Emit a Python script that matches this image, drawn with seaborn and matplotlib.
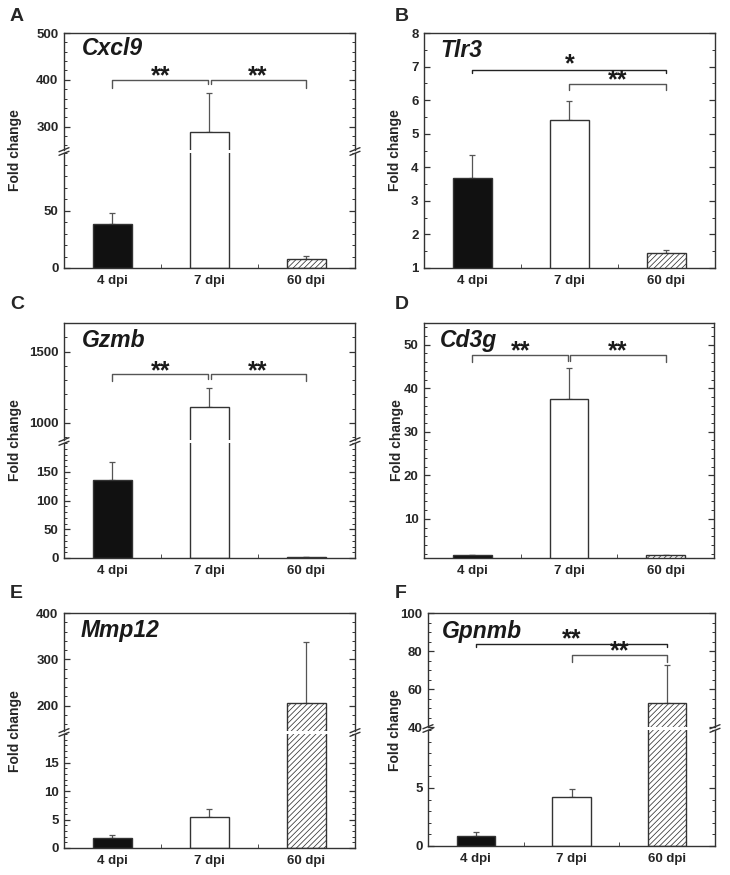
import numpy as np
import pandas as pd
import matplotlib
matplotlib.use('Agg')
import matplotlib.pyplot as plt
import seaborn as sns
from matplotlib.ticker import FixedLocator, MultipleLocator
from matplotlib.lines import Line2D

# ---------------- data ----------------
categories = ['4 dpi', '7 dpi', '60 dpi']

cxcl9_mean = [38, 289, 8]
cxcl9_err = [9.5, 83, 2.2]
tlr3_mean = [3.68, 5.42, 1.45]
tlr3_err = [0.68, 0.55, 0.10]
gzmb_mean = [136, 1114, 1.5]
gzmb_err = [31, 128, 0.5]
cd3g_mean = [1.6, 37.6, 1.6]
cd3g_err = [0.1, 7.1, 0.1]
mmp12_mean = [1.7, 5.5, 205]
mmp12_err = [0.6, 1.3, 132]
gpnmb_mean = [0.85, 4.2, 52.7]
gpnmb_err = [0.35, 0.72, 20]

genes = ['Cxcl9', 'Tlr3', 'Gzmb', 'Cd3g', 'Mmp12', 'Gpnmb']
panel_letters = ['A', 'B', 'C', 'D', 'E', 'F']

# ---------------- style ----------------
sns.set_style('ticks')
plt.rcParams['font.family'] = ['Liberation Sans', 'DejaVu Sans']
plt.rcParams['font.weight'] = 'bold'
plt.rcParams['hatch.linewidth'] = 0.55

EDGE = '#333333'
ERRC = '#555555'
bar_colors = {'4 dpi': '#111111', '7 dpi': 'white', '60 dpi': 'white'}

W, H = 730, 875
fig = plt.figure(figsize=(W / 100, H / 100), dpi=100)


def rect(l, t, r, b):
    return [l / W, 1 - b / H, (r - l) / W, (b - t) / H]


def fx(x):
    return x / W


def fy(y):
    return 1 - y / H


def draw_bars(ax, means, errs):
    df = pd.DataFrame({'dpi': categories, 'fold': means})
    sns.barplot(data=df, x='dpi', y='fold', hue='dpi', palette=bar_colors,
                legend=False, width=0.4, edgecolor=EDGE, linewidth=1.0,
                errorbar=None, ax=ax, zorder=2)
    for p in ax.patches:
        cx = p.get_x() + p.get_width() / 2
        if abs(cx - 2) < 0.1:
            p.set_hatch('//////')
    ax.errorbar(range(3), means, yerr=[np.zeros(3), errs], fmt='none',
                ecolor=ERRC, elinewidth=0.9, capsize=2, capthick=0.9, zorder=1)


def style(ax, ylim, yticks, minor, top=True, bottom=True):
    ax.set_xlim(-0.5, 2.5)
    ax.set_ylim(*ylim)
    ax.set_yticks(yticks)
    ax.set_yticklabels([str(t) for t in yticks])
    ax.yaxis.set_minor_locator(MultipleLocator(minor))
    ax.set_xlabel('')
    ax.set_ylabel('')
    for s in ax.spines.values():
        s.set_color(EDGE)
        s.set_linewidth(1.0)
    ax.spines['top'].set_visible(top)
    ax.spines['bottom'].set_visible(bottom)
    ax.tick_params(axis='y', which='both', direction='in', left=True,
                   right=True, color=EDGE, labelsize=9.5, pad=4)
    ax.tick_params(axis='y', which='major', length=4, width=0.9)
    ax.tick_params(axis='y', which='minor', length=2, width=0.7)
    if bottom:
        ax.set_xticks([0, 1, 2])
        ax.set_xticklabels(categories)
        ax.xaxis.set_minor_locator(FixedLocator([0.5, 1.5]))
        ax.tick_params(axis='x', which='major', length=0, labelsize=9.5, pad=5)
        ax.tick_params(axis='x', which='minor', direction='in', length=3,
                       bottom=True, top=False, color=EDGE)
    else:
        ax.tick_params(axis='x', which='both', bottom=False, top=False,
                       labelbottom=False)
        ax.set_xticks([])


def draw_break(xpix, ypix):
    for d in (-1.8, 1.8):
        fig.add_artist(Line2D([fx(xpix - 5), fx(xpix + 5)],
                              [fy(ypix + d + 2), fy(ypix + d - 2)],
                              color=EDGE, lw=1.0))


def bracket(ax, x1, x2, y, d1, d2, color=ERRC):
    ax.plot([x1, x1, x2, x2], [y - d1, y, y, y - d2], color=color, lw=1.0,
            clip_on=False, zorder=3)


def stars(ax, x, y, label, off=-2.5):
    ax.annotate(label, (x, y), xytext=(0, off), textcoords='offset points',
                ha='center', va='baseline', fontsize=18, color='#1a1a1a')


def panel_text(letter, gene, lx, ly, gx, gy, ylx, yly):
    fig.text(fx(lx), fy(ly), letter, fontsize=14, fontweight='bold',
             ha='left', va='top')
    fig.text(fx(gx), fy(gy), gene, fontsize=16.5, fontweight='bold',
             fontstyle='italic', ha='left', va='top', color='#1a1a1a')
    fig.text(fx(ylx), fy(yly), 'Fold change', fontsize=10, fontweight='bold',
             rotation=90, ha='center', va='center')


# ---------------- Panel A: Cxcl9 (broken) ----------------
aU = fig.add_axes(rect(64, 33, 355, 150))
aL = fig.add_axes(rect(64, 153, 355, 268))
for ax in (aU, aL):
    draw_bars(ax, cxcl9_mean, cxcl9_err)
style(aU, (250, 500), [300, 400, 500], 20, top=True, bottom=False)
style(aL, (0, 100), [0, 50], 10, top=False, bottom=True)
draw_break(64, 151.5)
draw_break(355, 151.5)
bracket(aU, 0, 0.985, 400, 18, 10)
bracket(aU, 1.015, 2, 400, 10, 18)
stars(aU, 0.5, 400, '**')
stars(aU, 1.5, 400, '**')
panel_text('A', genes[0], 10, 8, 82, 37, 15, 150)

# ---------------- Panel B: Tlr3 ----------------
b = fig.add_axes(rect(424, 33, 715, 268))
draw_bars(b, tlr3_mean, tlr3_err)
style(b, (1, 8), [1, 2, 3, 4, 5, 6, 7, 8], 0.5)
bracket(b, 0, 2, 6.9, 0.1, 0.1, color='#222222')
bracket(b, 1, 2, 6.48, 0.18, 0.18)
stars(b, 1, 6.9, '*', off=-1)
stars(b, 1.5, 6.48, '**', off=-2.5)
panel_text('B', genes[1], 395, 8, 440, 39, 395, 150)

# ---------------- Panel C: Gzmb (broken) ----------------
cU = fig.add_axes(rect(64, 323, 355, 440))
cL = fig.add_axes(rect(64, 443, 355, 558))
for ax in (cU, cL):
    draw_bars(ax, gzmb_mean, gzmb_err)
style(cU, (880, 1700), [1000, 1500], 100, top=True, bottom=False)
style(cL, (0, 200), [0, 50, 100, 150], 10, top=False, bottom=True)
draw_break(64, 441.5)
draw_break(355, 441.5)
bracket(cU, 0, 0.985, 1340, 49, 35)
bracket(cU, 1.015, 2, 1340, 35, 49)
stars(cU, 0.5, 1340, '**')
stars(cU, 1.5, 1340, '**')
panel_text('C', genes[2], 10, 296, 82, 329, 15, 440)

# ---------------- Panel D: Cd3g ----------------
d = fig.add_axes(rect(424, 323, 714, 558))
draw_bars(d, cd3g_mean, cd3g_err)
style(d, (1, 55), [10, 20, 30, 40, 50], 2)
bracket(d, 0, 0.985, 47.7, 1.7, 1.4)
bracket(d, 1.015, 2, 47.7, 1.4, 1.7)
stars(d, 0.5, 47.7, '**')
stars(d, 1.5, 47.7, '**')
panel_text('D', genes[3], 395, 296, 440, 329, 397, 440)

# ---------------- Panel E: Mmp12 (broken) ----------------
eU = fig.add_axes(rect(64, 613, 355, 731))
eL = fig.add_axes(rect(64, 734, 355, 848))
for ax in (eU, eL):
    draw_bars(ax, mmp12_mean, mmp12_err)
style(eU, (145, 400), [200, 300, 400], 20, top=True, bottom=False)
style(eL, (0, 20), [0, 5, 10, 15], 1, top=False, bottom=True)
draw_break(64, 732.5)
draw_break(355, 732.5)
panel_text('E', genes[4], 10, 585, 81, 619, 15, 731)

# ---------------- Panel F: Gpnmb (broken) ----------------
fU = fig.add_axes(rect(428, 613, 715, 727))
fL = fig.add_axes(rect(428, 730, 715, 846))
for ax in (fU, fL):
    draw_bars(ax, gpnmb_mean, gpnmb_err)
style(fU, (40, 100), [40, 60, 80, 100], 5, top=True, bottom=False)
style(fL, (0, 10), [0, 5], 1, top=False, bottom=True)
draw_break(428, 728.5)
draw_break(715, 728.5)
bracket(fU, 0, 2, 83.7, 1.6, 1.6, color='#222222')
bracket(fU, 1, 2, 78, 4, 4)
stars(fU, 1, 83.7, '**', off=-1.5)
stars(fU, 1.5, 78, '**', off=-2.5)
panel_text('F', genes[5], 395, 585, 442, 620, 395, 730)

fig.savefig('out.png', dpi=100)
